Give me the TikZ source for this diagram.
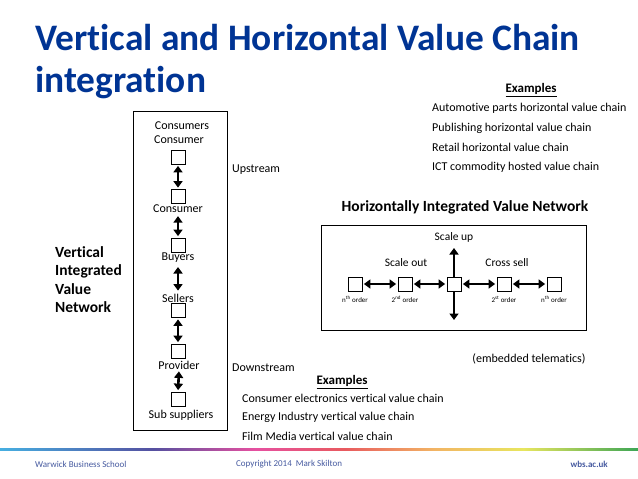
\documentclass[tikz,border=0pt]{standalone}
\usepackage{fontspec}
\setmainfont{Carlito}[Ligatures=NoCommon]
\usetikzlibrary{arrows.meta}
\definecolor{wbsblue}{RGB}{0,52,148}
\definecolor{footblue}{RGB}{70,90,160}
\definecolor{r0}{RGB}{70,175,225}
\definecolor{r1}{RGB}{85,80,160}
\definecolor{r2}{RGB}{230,80,160}
\definecolor{r3}{RGB}{232,90,95}
\definecolor{r4}{RGB}{242,180,100}
\definecolor{r5}{RGB}{232,230,95}
\definecolor{r6}{RGB}{60,165,85}
\pgfdeclarehorizontalshading{wbsrainbow}{100bp}{color(0bp)=(r0); color(25bp)=(r0); color(37bp)=(r1); color(45bp)=(r2); color(52bp)=(r3); color(59bp)=(r4); color(66bp)=(r5); color(75bp)=(r6); color(100bp)=(r6)}
\begin{document}
\begin{tikzpicture}[x=1pt,y=-1pt,
  sq/.style={draw,line width=0.8pt,minimum size=14pt,inner sep=0pt,fill=white},
  dbl/.style={{Triangle[length=6.5pt,width=9pt]}-{Triangle[length=6.5pt,width=9pt]},line width=2.6pt},
  onearrow/.style={-{Triangle[length=6.5pt,width=9pt]},line width=2.6pt},
  lab/.style={inner sep=0pt,font=\fontsize{12}{14}\selectfont},
  hlab/.style={inner sep=0pt,font=\fontsize{11.5}{13}\selectfont},
  small/.style={inner sep=0pt,font=\fontsize{7}{8}\selectfont},
  ex/.style={inner sep=0pt,anchor=west,font=\fontsize{12}{14}\selectfont},
  exhead/.style={inner sep=0pt,font=\fontsize{13}{15}\selectfont\bfseries},
  foot/.style={inner sep=0pt,text=footblue,font=\fontsize{9}{10}\selectfont},
  frame/.style={draw,line width=0.8pt,inner sep=0pt,anchor=north west}]
\useasboundingbox (0,0) rectangle (638,479);
\fill[white] (0,0) rectangle (638,479);
% title
\node[inner sep=0pt,anchor=base west,text=wbsblue,font=\fontsize{37.4}{40}\selectfont\bfseries] (title1) at (35,50) {Vertical and Horizontal Value Chain};
\node[inner sep=0pt,anchor=base west,text=wbsblue,font=\fontsize{37.4}{40}\selectfont\bfseries] (title2) at (35,92) {integration};
% right examples
\node[exhead] (exR) at (531,90) {\underline{Examples}};
\node[ex] (exR1) at (432,108) {Automotive parts horizontal value chain};
\node[ex] (exR2) at (432,128) {Publishing horizontal value chain};
\node[ex] (exR3) at (432,147) {Retail horizontal value chain};
\node[ex] (exR4) at (432,167) {ICT commodity hosted value chain};
% vertical chain
\node[frame,minimum width=94pt,minimum height=319pt] (vbox) at (133,111) {};
\node[lab] (lcons) at (182,126) {Consumers};
\node[lab] (lcon1) at (179,140) {Consumer};
\node[sq] (vs1) at (178,157) {};
\node[sq] (vs2) at (178,196.5) {};
\node[lab] (lcon2) at (178,209) {Consumer};
\node[sq] (vs3) at (178,245) {};
\node[lab] (lbuy) at (178,258) {Buyers};
\node[lab] (lsel) at (178,298) {Sellers};
\node[sq] (vs4) at (178,310) {};
\node[sq] (vs5) at (178,351.5) {};
\node[lab] (lprov) at (179,365) {Provider};
\node[sq] (vs6) at (178,399.5) {};
\node[lab] (lsub) at (181,415) {Sub suppliers};
\draw[dbl,shorten <=1.5pt,shorten >=1.5pt] (vs1.south) -- (vs2.north);
\draw[dbl,shorten <=3pt,shorten >=1.5pt] (lcon2.south) -- (vs3.north);
\draw[dbl,shorten <=4pt,shorten >=3pt] (lbuy.south) -- (lsel.north);
\draw[dbl,shorten <=2pt,shorten >=2pt] (vs4.south) -- (vs5.north);
\draw[dbl,shorten <=2pt,shorten >=2pt] (lprov.south) -- (vs6.north);
\node[lab,anchor=west] (lup) at (232,170) {Upstream};
\node[lab,anchor=west] (ldown) at (232,368) {Downstream};
\node[inner sep=0pt,anchor=base west,align=left,font=\fontsize{15.5}{18.5}\selectfont\bfseries] (vlabel) at (55,312.5) {Vertical\\Integrated\\Value\\Network};
% horizontal network
\node[inner sep=0pt,font=\fontsize{15.5}{17}\selectfont\bfseries] (htitle) at (465,207) {Horizontally Integrated Value Network};
\node[frame,minimum width=265pt,minimum height=105pt] (hbox) at (321,225) {};
\coordinate (up) at (454,248);
\coordinate (down) at (454,320);
\node[sq] (h1) at (355,284) {};
\node[sq] (h2) at (405,284) {};
\node[sq] (hc) at (454,284) {};
\node[sq] (h4) at (504,284) {};
\node[sq] (h5) at (554,284) {};
\draw[onearrow] (hc.north) -- (up);
\draw[onearrow] (hc.south) -- (down);
\draw[dbl,shorten <=1.5pt,shorten >=1.5pt] (h1.east) -- (h2.west);
\draw[dbl,shorten <=1.5pt,shorten >=1.5pt] (h2.east) -- (hc.west);
\draw[dbl,shorten <=1.5pt,shorten >=1.5pt] (hc.east) -- (h4.west);
\draw[dbl,shorten <=1.5pt,shorten >=1.5pt] (h4.east) -- (h5.west);
\node[hlab] (lsup) at (454,237) {Scale up};
\node[hlab] (lsout) at (406,263) {Scale out};
\node[hlab] (lcross) at (507,263) {Cross sell};
\node[small] (o1) at (355,299) {n\textsuperscript{th} order};
\node[small] (o2) at (405,299) {2\textsuperscript{nd} order};
\node[small] (o4) at (504,299) {2\textsuperscript{st} order};
\node[small] (o5) at (554,299) {n\textsuperscript{th} order};
\node[lab] (emb) at (529,359) {(embedded telematics)};
% bottom examples
\node[exhead] (exB) at (342,382) {\underline{Examples}};
\node[ex] (exB1) at (242,398) {Consumer electronics vertical value chain};
\node[ex] (exB2) at (242,417) {Energy Industry vertical value chain};
\node[ex] (exB3) at (242,436) {Film Media vertical value chain};
% footer
\shade[shading=wbsrainbow] (0,448) rectangle (638,450.5);
\node[foot,anchor=west] (f1) at (35,464) {Warwick Business School};
\node[foot,anchor=west] (f2) at (236,464) {Copyright 2014\ \ Mark Skilton};
\node[foot,anchor=east,font=\fontsize{9}{10}\selectfont\bfseries] (f3) at (608,464) {wbs.ac.uk};
\end{tikzpicture}
\end{document}
